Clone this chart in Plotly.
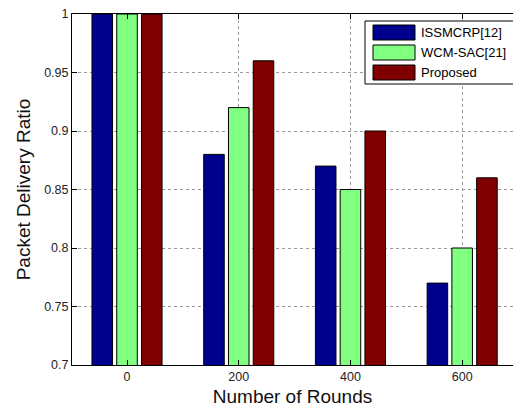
import plotly.graph_objects as go

# Packet delivery ratio per number of rounds
rounds = [0, 200, 400, 600]
issmcrp = [1.00, 0.88, 0.87, 0.77]
wcm_sac = [1.00, 0.92, 0.85, 0.80]
proposed = [1.00, 0.96, 0.90, 0.86]

series_names = ["ISSMCRP[12]", "WCM-SAC[21]", "Proposed"]
series_colors = ["#00008F", "#80FF80", "#800000"]
y_ticks = [0.7, 0.75, 0.8, 0.85, 0.9, 0.95, 1.0]
y_tick_labels = ["0.7", "0.75", "0.8", "0.85", "0.9", "0.95", "1"]

W, H = 513, 407
L, T, B, R = 72, 14, 42, 0
FONT = "Arial, Liberation Sans, sans-serif"

fig = go.Figure()
for name, vals, col in zip(series_names, [issmcrp, wcm_sac, proposed], series_colors):
    fig.add_trace(go.Bar(
        x=rounds, y=vals, name=name,
        marker=dict(color=col, line=dict(color="black", width=1)),
        showlegend=False,
    ))

# Pixel -> paper helpers for the hand-drawn legend
pw = W - L - R
ph = H - T - B


def px(x):
    return (x - L) / pw


def py(y):
    return (H - B - y) / ph


shapes = [dict(type="rect", xref="paper", yref="paper",
               x0=px(365), x1=px(520), y0=py(84), y1=py(21),
               fillcolor="white", line=dict(color="black", width=1), layer="above")]
annotations = []
for i, (name, col) in enumerate(zip(series_names, series_colors)):
    top = 25 + 20 * i
    shapes.append(dict(type="rect", xref="paper", yref="paper",
                       x0=px(373), x1=px(415), y0=py(top + 15), y1=py(top),
                       fillcolor=col, line=dict(color="black", width=1), layer="above"))
    annotations.append(dict(xref="paper", yref="paper", x=px(419), y=py(top + 7.5),
                            text=name, showarrow=False, xanchor="left", yanchor="middle",
                            font=dict(family=FONT, size=13, color="black")))

fig.update_layout(
    width=W, height=H,
    margin=dict(l=L, r=R, t=T, b=B, pad=0),
    paper_bgcolor="white", plot_bgcolor="white",
    barmode="group", bargap=0.335, bargroupgap=0.17,
    font=dict(family=FONT, color="black"),
    shapes=shapes, annotations=annotations,
    xaxis=dict(
        range=[-98.5, 691], tickvals=rounds, ticktext=[str(r) for r in rounds],
        ticks="inside", ticklen=5, tickcolor="black",
        showline=True, linecolor="black", linewidth=1, mirror="ticks",
        showgrid=True, gridcolor="#9a9a9a", griddash="dot", gridwidth=1,
        zeroline=False, tickfont=dict(size=12.5, color="#222"),
        title=dict(text="Number of Rounds", font=dict(size=19, color="#111"), standoff=6),
    ),
    yaxis=dict(
        range=[0.7, 1.0], tickvals=y_ticks, ticktext=y_tick_labels,
        ticks="inside", ticklen=5, tickcolor="black",
        showline=True, linecolor="black", linewidth=1,
        showgrid=True, gridcolor="#9a9a9a", griddash="dot", gridwidth=1,
        zeroline=False, tickfont=dict(size=12.5, color="#222"),
        title=dict(text="Packet Delivery Ratio", font=dict(size=19, color="#111"), standoff=8),
    ),
)

fig.write_html("out.html")
